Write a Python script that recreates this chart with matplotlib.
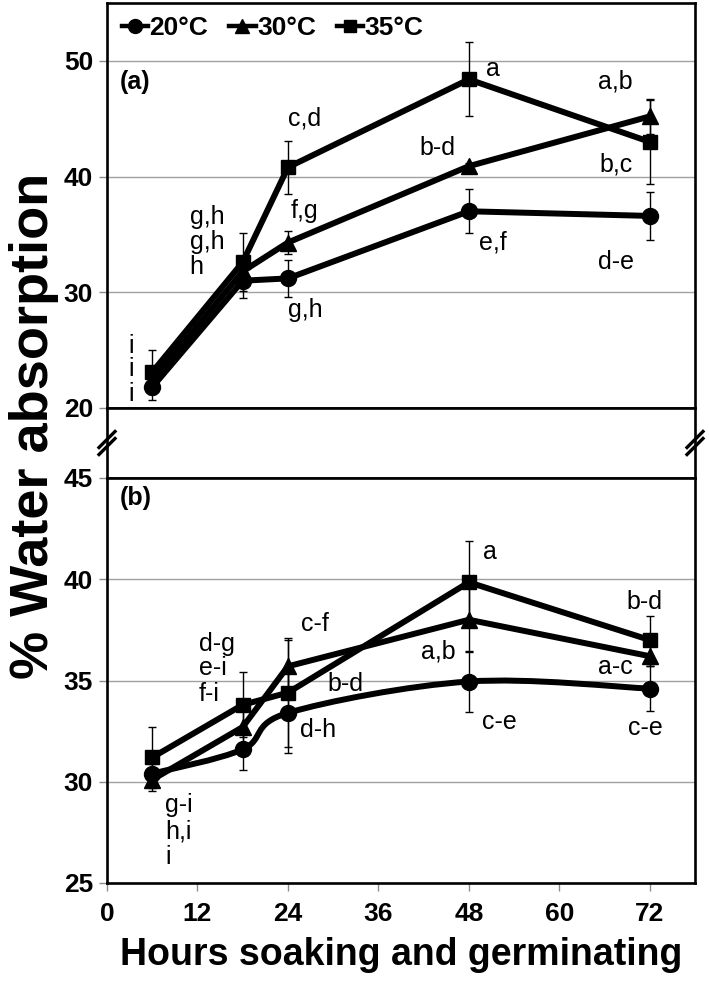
import numpy as np
import matplotlib
matplotlib.use("Agg")
import matplotlib.pyplot as plt
from matplotlib.path import Path
from matplotlib.patches import PathPatch
from matplotlib.lines import Line2D

plt.rcParams['font.family'] = ['Liberation Sans', 'DejaVu Sans']

# ---------------- data ----------------
hours = [6, 18, 24, 48, 72]
series_names = ['20°C', '30°C', '35°C']

# panel (a)
a_20 = [21.8, 31.0, 31.2, 37.0, 36.6]
a_30 = [22.4, 31.8, 34.3, 40.9, 45.2]
a_35 = [23.1, 32.6, 40.8, 48.4, 43.0]
a_20_err = [1.1, 1.5, 1.6, 1.9, 2.1]
a_30_err = [1.2, 1.2, 1.0, 0.3, 1.5]
a_35_err = [1.9, 2.5, 2.3, 3.2, 3.6]

# panel (b)
b_20 = [30.4, 31.6, 33.4, 34.95, 34.6]
b_30 = [30.1, 32.7, 35.7, 38.0, 36.2]
b_35 = [31.2, 33.8, 34.4, 39.85, 37.0]
b_20_err = [0.5, 1.0, 2.0, 1.5, 1.1]
b_30_err = [0.55, 1.2, 1.3, 1.6, 0.5]
b_35_err = [1.5, 1.6, 2.7, 2.05, 1.2]

x_ticks = [0, 12, 24, 36, 48, 60, 72]
a_yticks = [20, 30, 40, 50]
b_yticks = [25, 30, 35, 40, 45]

# letter labels: (series index 0=20,1=30,2=35 ; point index ; text)
a_letters = [(2, 0, 'i'), (1, 0, 'i'), (0, 0, 'i'),
             (2, 1, 'g,h'), (1, 1, 'g,h'), (0, 1, 'h'),
             (2, 2, 'c,d'), (1, 2, 'f,g'), (0, 2, 'g,h'),
             (2, 3, 'a'), (1, 3, 'b-d'), (0, 3, 'e,f'),
             (1, 4, 'a,b'), (2, 4, 'b,c'), (0, 4, 'd-e')]
b_letters = [(2, 0, 'g-i'), (1, 0, 'h,i'), (0, 0, 'i'),
             (2, 1, 'd-g'), (1, 1, 'e-i'), (0, 1, 'f-i'),
             (1, 2, 'c-f'), (2, 2, 'b-d'), (0, 2, 'd-h'),
             (2, 3, 'a'), (1, 3, 'a,b'), (0, 3, 'c-e'),
             (2, 4, 'b-d'), (1, 4, 'a-c'), (0, 4, 'c-e')]

# ---------------- layout (pixel offsets of letters, style) ----------------
a_offsets = [(-21, -26, 'center'), (-21, -11, 'center'), (-21, 7, 'center'),
             (-53, -45, 'left'), (-53, -29, 'left'), (-53, -14, 'left'),
             (17, -49, 'center'), (17, -32, 'center'), (17, 32, 'center'),
             (24, -10, 'center'), (-31, -18, 'center'), (24, 31, 'center'),
             (-34, -35, 'center'), (-34, 23, 'center'), (-34, 46, 'center')]
b_offsets = [(13, 48, 'left'), (13, 52, 'left'), (13, 83, 'left'),
             (-44, -61, 'left'), (-44, -59, 'left'), (-44, -55, 'left'),
             (27, -42, 'center'), (58, -9, 'center'), (30, 17, 'center'),
             (21, -30, 'center'), (-31, 32, 'center'), (31, 40, 'center'),
             (-5, -38, 'center'), (-34, 11, 'center'), (-4, 39, 'center')]

W_PX, H_PX = 709, 982
fig = plt.figure(figsize=(W_PX / 100, H_PX / 100), dpi=100)

L = 107 / W_PX
R = 695 / W_PX
def fy(px):
    return 1 - px / H_PX

ax_top = fig.add_axes([L, fy(408), R - L, (408 - 3) / H_PX])
ax_gap = fig.add_axes([L, fy(478), R - L, (478 - 408) / H_PX])
ax_bot = fig.add_axes([L, fy(883), R - L, (883 - 478) / H_PX])

markers = ['o', '^', 's']
msizes = [11.5, 11.5, 10]
LW = 4.3
TICKC = '#8c8c8c'


def smooth_patch(ax, x, y, **kw):
    pts = np.column_stack([x, y]).astype(float)
    P = np.vstack([pts[0], pts, pts[-1]])
    verts = [tuple(pts[0])]
    codes = [Path.MOVETO]
    for i in range(1, len(P) - 2):
        p0, p1, p2, p3 = P[i - 1], P[i], P[i + 1], P[i + 2]
        c1 = p1 + (p2 - p0) / 6.0
        c2 = p2 - (p3 - p1) / 6.0
        verts += [tuple(c1), tuple(c2), tuple(p2)]
        codes += [Path.CURVE4] * 3
    patch = PathPatch(Path(verts, codes), fill=False, **kw)
    ax.add_patch(patch)


def style_axes(ax, ylim, yticks, xlabels):
    ax.set_xlim(0, 78)
    ax.set_ylim(*ylim)
    ax.set_xticks(x_ticks)
    ax.set_yticks(yticks)
    ax.set_axisbelow(True)
    ax.yaxis.grid(True, color='#a0a0a0', linewidth=1.0)
    for s in ax.spines.values():
        s.set_linewidth(1.9)
        s.set_color('black')
    ax.tick_params(axis='both', direction='out', length=6, width=1.0,
                   color=TICKC, labelsize=19, pad=4)
    for lab in ax.get_yticklabels():
        lab.set_fontweight('bold')
    if xlabels:
        for lab in ax.get_xticklabels():
            lab.set_fontweight('bold')
        ax.tick_params(axis='x', pad=8)
    else:
        ax.tick_params(axis='x', labelbottom=False)


def draw_panel(ax, ys, errs, smooth_first=False):
    for k, (y, e) in enumerate(zip(ys, errs)):
        if smooth_first and k == 0:
            smooth_patch(ax, hours, y, edgecolor='black', linewidth=LW,
                         capstyle='round', joinstyle='round', zorder=3)
        else:
            ax.plot(hours, y, color='black', linewidth=LW,
                    solid_joinstyle='round', solid_capstyle='round', zorder=3)
        ax.errorbar(hours, y, yerr=e, fmt='none', ecolor='black',
                    elinewidth=1.0, capsize=3, capthick=1.0, zorder=4)
        ax.plot(hours, y, linestyle='none', marker=markers[k],
                markersize=msizes[k], color='black', zorder=5)


def draw_letters(ax, ys, letters, offsets):
    for (si, pi, txt), (dx, dy, ha) in zip(letters, offsets):
        ax.annotate(txt, xy=(hours[pi], ys[si][pi]), xytext=(dx, -dy),
                    textcoords='offset pixels', ha=ha, va='center',
                    fontsize=18, zorder=6)


# top panel (a)
style_axes(ax_top, (20, 55), a_yticks, xlabels=False)
a_vals = [a_20, a_30, a_35]
draw_panel(ax_top, a_vals, [a_20_err, a_30_err, a_35_err])
draw_letters(ax_top, a_vals, a_letters, a_offsets)
ax_top.text(0.022, 0.805, '(a)', transform=ax_top.transAxes,
            fontsize=18, fontweight='bold', ha='left', va='center')

handles = [Line2D([0], [0], color='black', linewidth=3.2, marker=m,
                  markersize=ms - 1.5) for m, ms in zip(markers, msizes)]
leg = ax_top.legend(handles, series_names, loc='upper left',
                    bbox_to_anchor=(0.025, 0.968), ncol=3, frameon=False,
                    handlelength=1.0, handletextpad=0.05, columnspacing=0.8,
                    borderaxespad=0, borderpad=0,
                    prop={'size': 19, 'weight': 'bold'})

# gap
ax_gap.set_xlim(0, 78)
ax_gap.set_ylim(0, 1)
ax_gap.set_xticks([])
ax_gap.set_yticks([])
for s in ax_gap.spines.values():
    s.set_linewidth(1.9)
    s.set_color('black')

# bottom panel (b)
style_axes(ax_bot, (25, 45), b_yticks, xlabels=True)
b_vals = [b_20, b_30, b_35]
draw_panel(ax_bot, b_vals, [b_20_err, b_30_err, b_35_err], smooth_first=True)
draw_letters(ax_bot, b_vals, b_letters, b_offsets)
ax_bot.text(0.022, 0.95, '(b)', transform=ax_bot.transAxes,
            fontsize=18, fontweight='bold', ha='left', va='center')

ax_bot.set_xlabel('Hours soaking and germinating', fontsize=27,
                  fontweight='bold', va='center')
ax_bot.xaxis.set_label_coords(0.5, -0.178)

fig.text(34 / W_PX, fy(426), '% Water absorption', rotation=90,
         fontsize=39, fontweight='bold', ha='center', va='center')

# break marks
for xp in (107, 695):
    for dyp in (-3.5, 3.5):
        cx, cy = xp, 443 + dyp
        fig.add_artist(Line2D([(cx - 8) / W_PX, (cx + 8) / W_PX],
                              [fy(cy + 8), fy(cy - 8)],
                              color='black', linewidth=2.4,
                              transform=fig.transFigure))

fig.savefig('out.png', dpi=100)
